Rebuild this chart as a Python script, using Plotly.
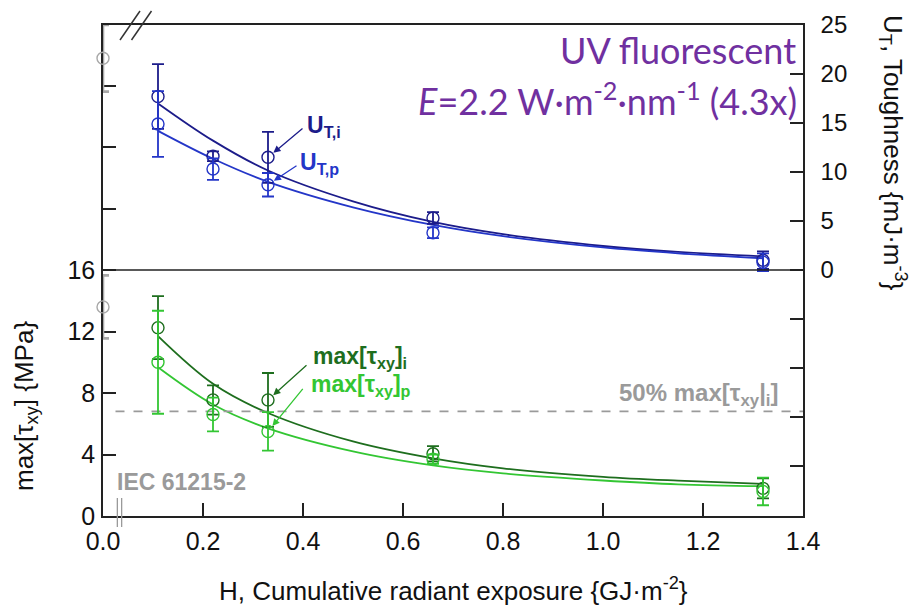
import plotly.graph_objects as go

# ---------------- data ----------------
H = [0.11, 0.22, 0.33, 0.66, 1.32]
UT_i = [17.7, 11.6, 11.5, 5.3, 1.0]
UT_i_err = [3.3, 0.5, 2.6, 0.6, 0.9]
UT_p = [14.9, 10.3, 8.7, 3.8, 0.8]
UT_p_err = [3.35, 1.1, 1.2, 0.55, 0.9]

tau_i = [12.25, 7.55, 7.55, 4.05, 1.8]
tau_i_err = [2.05, 0.95, 1.75, 0.5, 0.65]
tau_p = [10.0, 6.6, 5.5, 3.7, 1.6]
tau_p_err = [3.35, 1.1, 1.25, 0.3, 0.9]

H0 = [0.0]
UT_0 = [21.6]
UT_0_err = [3.4]
tau_0 = [13.6]
tau_0_err = [2.05]

fit_H = [0.11, 0.22, 0.33, 0.5, 0.66, 0.8, 1.0, 1.15, 1.32]
UT_i_fit = [17.0, 13.2, 10.15, 7.0, 4.9, 3.65, 2.45, 1.85, 1.4]
UT_p_fit = [14.2, 11.35, 9.0, 6.4, 4.6, 3.45, 2.3, 1.7, 1.2]
tau_i_fit = [11.7, 8.6, 6.7, 4.85, 3.75, 3.1, 2.55, 2.3, 2.09]
tau_p_fit = [9.67, 7.25, 5.7, 4.2, 3.29, 2.77, 2.31, 2.06, 1.94]

half_tau_i = 6.8  # 50% of max[tau_xy] of the unexposed state

x_ticks = [0.0, 0.2, 0.4, 0.6, 0.8, 1.0, 1.2, 1.4]
x_ticklabels = ["0.0", "0.2", "0.4", "0.6", "0.8", "1.0", "1.2", "1.4"]
tau_ticks = [0, 4, 8, 12, 16, 20, 24, 28]
tau_ticklabels = ["0", "4", "8", "12", "16", "", "", ""]
UT_ticks = [-20, -15, -10, -5, 0, 5, 10, 15, 20, 25]
UT_ticklabels = ["", "", "", "", "0", "5", "10", "15", "20", "25"]

# ---------------- style ----------------
C_UTI = "#1c1c8a"
C_UTP = "#2436c8"
C_TI = "#1e6e1e"
C_TP = "#33c633"
C_GRAY = "#9a9a9a"
C_PURPLE = "#7030a0"
FONT = "Liberation Sans, Arial, sans-serif"

W, HGT = 922, 609
L, R, T, B = 103, 119, 25, 93
PW, PH = W - L - R, HGT - T - B
PX_TAU = 61.5 / 4     # pixels per MPa
PX_UT = 49.0 / 5      # pixels per mJ/m3
BOT_H = 246           # height of lower panel in px


def px(xp):
    return (xp - L) / PW


def py(yp):
    return (HGT - B - yp) / PH


fig = go.Figure()


def fit_line(y, color, ya):
    fig.add_trace(go.Scatter(x=fit_H, y=y, mode="lines", line=dict(color=color, width=1.8, shape="spline"),
                             yaxis=ya, showlegend=False, hoverinfo="skip"))


def points(x, y, err, color, ya, thick=1.8):
    fig.add_trace(go.Scatter(x=x, y=y, mode="markers",
                             marker=dict(symbol="circle-open", size=12, color=color,
                                         line=dict(width=1.4, color=color)),
                             error_y=dict(type="data", array=err, visible=True, color=color,
                                          thickness=thick, width=6),
                             yaxis=ya, cliponaxis=False, showlegend=False))


fit_line(tau_i_fit, C_TI, "y")
fit_line(tau_p_fit, C_TP, "y")
fig.add_trace(go.Scatter(x=[0.025, 1.4], y=[half_tau_i, half_tau_i], mode="lines",
                         line=dict(color=C_GRAY, width=1.8, dash="dash"), yaxis="y",
                         showlegend=False, hoverinfo="skip"))
points(H, tau_i, tau_i_err, C_TI, "y")
points(H, tau_p, tau_p_err, C_TP, "y")
points(H0, tau_0, tau_0_err, "#a8a8a8", "y", thick=2.6)

fit_line(UT_i_fit, C_UTI, "y2")
fit_line(UT_p_fit, C_UTP, "y2")
points(H, UT_i, UT_i_err, C_UTI, "y2")
points(H, UT_p, UT_p_err, C_UTP, "y2")
points(H0, UT_0, UT_0_err, "#a8a8a8", "y2", thick=2.6)

axis_common = dict(showgrid=False, zeroline=False, linecolor="#222", linewidth=1.5,
                   tickcolor="#222", tickwidth=1.5, ticklen=13, ticks="inside",
                   tickfont=dict(family=FONT, size=25, color="#111"), layer="below traces")

fig.update_layout(
    width=W, height=HGT, autosize=False,
    margin=dict(l=L, r=R, t=T, b=B, pad=0),
    paper_bgcolor="white", plot_bgcolor="rgba(0,0,0,0)",
    showlegend=False,
    xaxis=dict(axis_common, range=[0, 1.4], showline=True, mirror=True,
               tickvals=x_ticks, ticktext=x_ticklabels, ticklabelstandoff=2),
    yaxis=dict(axis_common, range=[0, PH / PX_TAU], side="left", showline=True,
               tickvals=tau_ticks, ticktext=tau_ticklabels, ticklabelstandoff=1),
    yaxis2=dict(axis_common, range=[-BOT_H / PX_UT, (PH - BOT_H) / PX_UT], overlaying="y", anchor="x",
                side="right", showline=True, tickvals=UT_ticks, ticktext=UT_ticklabels,
                ticklabelstandoff=11, tickfont=dict(family=FONT, size=24, color="#111")),
)

ann = []


def text(t, xp, ypix, size, color, xanchor="left", family=FONT, angle=0, yanchor="middle"):
    ann.append(dict(text=t, x=px(xp), y=py(ypix), xref="paper", yref="paper", showarrow=False,
                    xanchor=xanchor, yanchor=yanchor, textangle=angle,
                    font=dict(family=family, size=size, color=color)))


def arrow(xv, yv, ya, ax, ay, color):
    ann.append(dict(text="", x=xv, y=yv, xref="x", yref=ya, showarrow=True, ax=ax, ay=ay,
                    arrowhead=2, arrowsize=1.1, arrowwidth=1.3, arrowcolor=color, standoff=7))


text("<b>U<sub>T,i</sub></b>", 305, 127, 23, C_UTI)
text("<b>U<sub>T,p</sub></b>", 298, 163, 23, C_UTP)
text("<b>max[τ<sub>xy</sub>]<sub>i</sub></b>", 311, 357, 23, C_TI)
text("<b>max[τ<sub>xy</sub>]<sub>p</sub></b>", 309, 385, 23, C_TP)
text("<b>50% max[τ<sub>xy</sub>|<sub>i</sub>]</b>", 781, 394, 24, C_GRAY, xanchor="right")
text("<b>IEC 61215-2</b>", 115, 482, 23, C_GRAY)
text("UV fluorescent", 798, 50, 36, C_PURPLE, xanchor="right", family="Lato, Open Sans, sans-serif")
text("<i>E</i>=2.2 W·m<sup>-2</sup>·nm<sup>-1</sup> (4.3x)", 799, 99, 36, C_PURPLE, xanchor="right",
     family="Lato, Open Sans, sans-serif")
text("H, Cumulative radiant exposure {GJ·m<sup>-2</sup>}", 453, 589, 26, "#111", xanchor="center")
text("max[τ<sub>xy</sub>] {MPa}", 25, 406, 26, "#111", xanchor="center", angle=-90)
text("U<sub>T</sub>, Toughness {mJ·m<sup>-3</sup>}", 893, 153, 26, "#111", xanchor="center", angle=90)

arrow(H[2], UT_i[2], "y2", 36, -30, C_UTI)
arrow(H[2], UT_p[2], "y2", 30, -20, C_UTP)
arrow(H[2], tau_i[2], "y", 40, -36, C_TI)
arrow(H[2], tau_p[2], "y", 36, -44, C_TP)

fig.update_layout(annotations=ann)

# panel separator and axis-break decorations
shapes = [dict(type="line", xref="paper", yref="paper", x0=0, x1=1, y0=BOT_H / PH, y1=BOT_H / PH,
               line=dict(color="#222", width=1.5))]
for xb in (0.0287, 0.0373):
    shapes.append(dict(type="line", xref="x", yref="paper", x0=xb, x1=xb, y0=py(498), y1=py(527),
                       line=dict(color=C_GRAY, width=1.3)))
for x0, x1 in ((0.034, 0.074), (0.057, 0.097)):
    shapes.append(dict(type="line", xref="x", yref="paper", x0=x0, x1=x1, y0=py(40), y1=py(11),
                       line=dict(color="#333", width=1.5)))
fig.update_layout(shapes=shapes)

fig.write_html("out.html")
